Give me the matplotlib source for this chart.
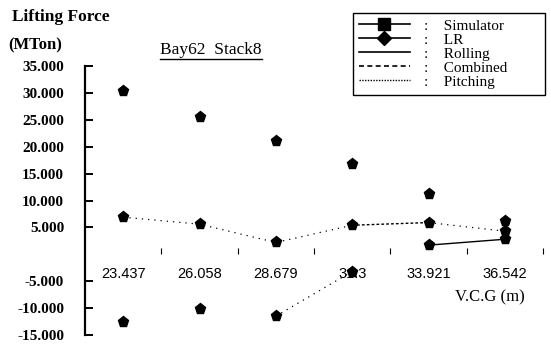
import numpy as np
import matplotlib.pyplot as plt
from matplotlib.lines import Line2D

vcg = ['23.437', '26.058', '28.679', '31.3', '33.921', '36.542']
upper = [30.3, 25.5, 21.0, 16.7, 11.3, 6.1]
middle = [6.9, 5.6, 2.2, 5.4, 5.9, 4.3]
lower = [-12.5, -10.2, -11.5, -3.2, 1.7, 2.8]
yticks = [35, 30, 25, 20, 15, 10, 5, -5, -10, -15]

# segments that survive for each line type (NaN = no line drawn)
pitch_mid = [6.9, 5.6, 2.2, 5.4, np.nan, np.nan]
pitch_mid2 = [np.nan, np.nan, np.nan, np.nan, 5.9, 4.3]
pitch_low = [np.nan, np.nan, -11.5, -3.2, np.nan, np.nan]
comb_mid = [np.nan, np.nan, np.nan, 5.4, 5.9, np.nan]
roll_low = [np.nan, np.nan, np.nan, np.nan, 1.7, 2.8]

serif = ['Liberation Serif', 'DejaVu Serif']
sans = ['Liberation Sans', 'DejaVu Sans']

fig = plt.figure(figsize=(5.51, 3.45), dpi=100)
ax = fig.add_axes([85/551, 1-335/345, (543-85)/551, (335-66)/345])
x = np.arange(len(vcg))

ax.plot(x, pitch_mid, color='black', lw=0.9, ls=(0, (1, 4)))
ax.plot(x, pitch_mid2, color='black', lw=0.9, ls=(0, (1, 4)))
ax.plot(x, pitch_low, color='black', lw=0.9, ls=(0, (1, 4)))
ax.plot(x, comb_mid, color='black', lw=1.0, ls=(0, (2, 1.5)))
ax.plot(x, roll_low, color='black', lw=1.0, ls='-')
for ser in (upper, middle, lower):
    ax.plot(x, ser, ls='none', marker='p', ms=8, color='black')

ax.set_xlim(-0.5, 5.5)
ax.set_ylim(-15, 35)

ax.spines['top'].set_visible(False)
ax.spines['right'].set_visible(False)
ax.spines['left'].set_linewidth(1.6)
ax.spines['bottom'].set_position(('data', 0))
ax.spines['bottom'].set_visible(False)

ax.set_yticks(yticks)
ax.set_yticklabels([f'{v:.3f}' for v in yticks], fontfamily=serif,
                   fontweight='bold', fontsize=11)
ax.tick_params(axis='y', direction='in', length=6, width=1.4, pad=15)

ax.set_xticks(np.arange(-0.5, 6, 1.0)[1:])
ax.set_xticklabels([])
ax.set_xticks(x, minor=True)
ax.set_xticklabels(vcg, minor=True, fontfamily=sans, fontsize=10.5)
ax.tick_params(axis='x', which='major', direction='in', length=4, width=0.8)
ax.tick_params(axis='x', which='minor', length=0, pad=9)

fig.text(12/551, 1-17/345, 'Lifting Force', fontfamily=serif,
         fontweight='bold', fontsize=12.5, va='center', ha='left')
fig.text(8/551, 1-45/345, '(MTon)', fontfamily=serif,
         fontweight='bold', fontsize=12, va='center', ha='left')
fig.text(455/551, 1-297/345, 'V.C.G (m)', fontfamily=serif,
         fontsize=12, va='center', ha='left')

title = fig.text(211/551, 1-50/345, 'Bay62  Stack8', fontfamily=serif,
                 fontsize=12.5, va='center', ha='center')
fig.canvas.draw()
bb = title.get_window_extent()
fig.add_artist(Line2D([bb.x0/551, bb.x1/551], [(bb.y0-1)/345, (bb.y0-1)/345],
                      color='black', lw=1.0))

handles = [
    Line2D([], [], color='black', lw=1.2, marker='s', ms=8),
    Line2D([], [], color='black', lw=1.2, marker='D', ms=7),
    Line2D([], [], color='black', lw=1.2, ls='-'),
    Line2D([], [], color='black', lw=1.2, ls=(0, (3, 2))),
    Line2D([], [], color='black', lw=1.0, ls=(0, (1, 1))),
]
names = ['Simulator', 'LR', 'Rolling', 'Combined', 'Pitching']
labels = [f':    {n}' for n in names]
labels[0] += ' ' * 9
leg = fig.legend(handles, labels, loc='upper left',
                 bbox_to_anchor=(353/551, 1-13/345), borderaxespad=0,
                 fancybox=False, edgecolor='black', framealpha=1,
                 handlelength=3.3, handletextpad=0.95, labelspacing=0.02,
                 borderpad=0.4, prop={'family': serif, 'size': 11})
leg.get_frame().set_linewidth(1.0)

fig.savefig('out.png', dpi=100)
